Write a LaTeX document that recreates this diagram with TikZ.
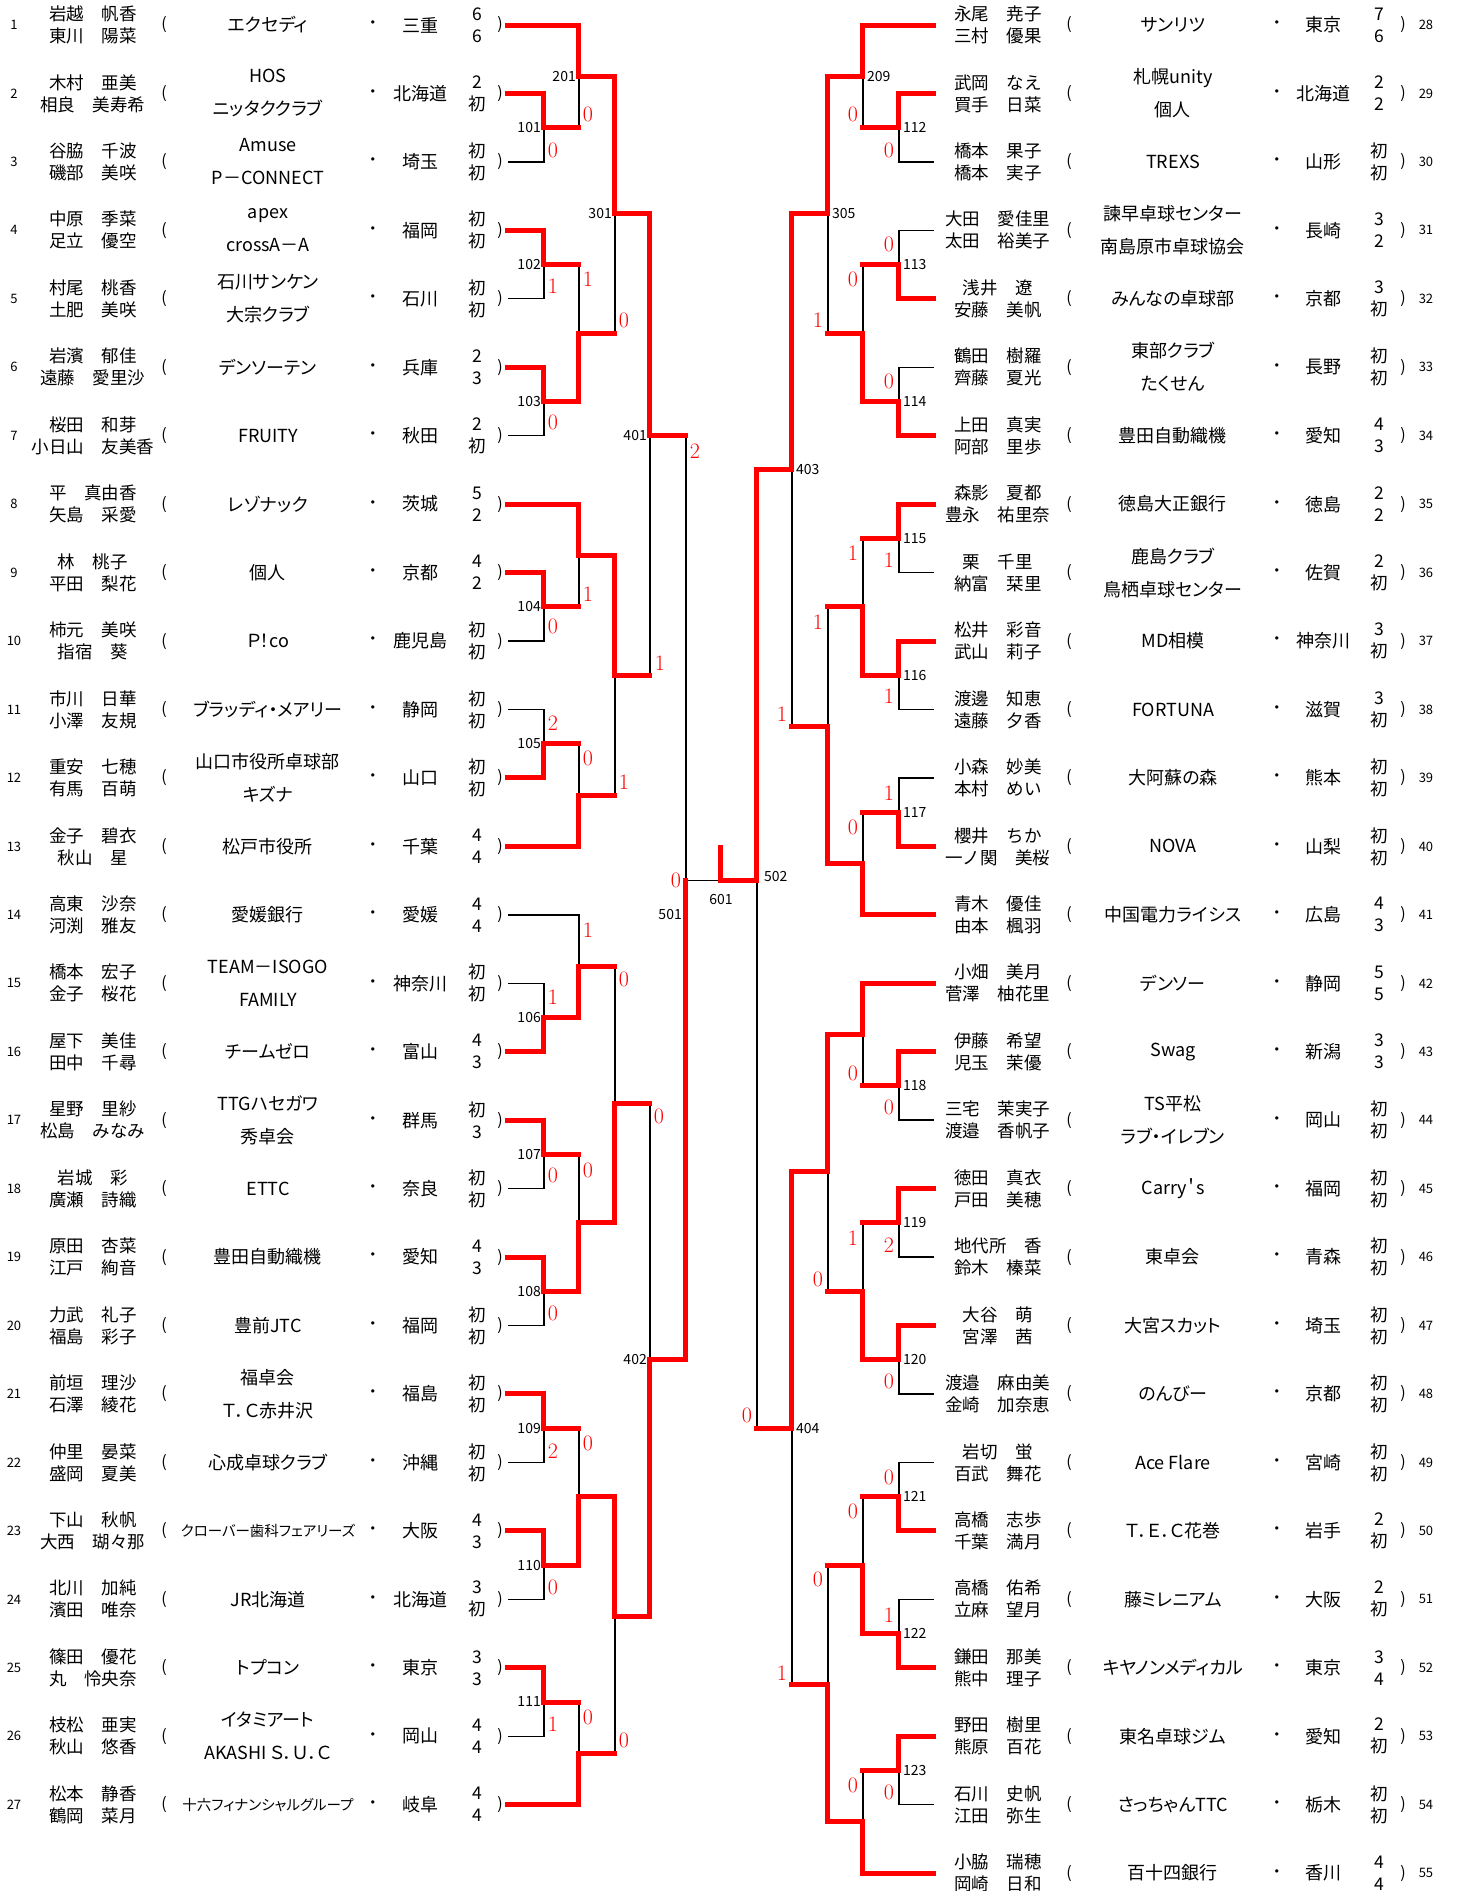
\documentclass[tikz,border=0pt]{standalone}
\usepackage{fontspec}
\newfontfamily\jp{Noto Sans CJK JP}
\newfontfamily\jpp[RawFeature=+palt]{Noto Sans CJK JP}
\usetikzlibrary{positioning}

\tikzset{
  win/.style={draw=red, line width=5pt, line cap=rect},
  lose/.style={draw=black, line width=1.4pt},
  rowno/.style={inner sep=0pt, font=\jp\fontsize{13}{15}\selectfont},
  player/.style={align=center, inner sep=0pt, font=\jp\fontsize{17.5}{22}\selectfont},
  club/.style={align=center, inner sep=0pt, font=\jpp\fontsize{18}{33}\selectfont},
  paren/.style={inner sep=0pt, font=\jp\fontsize{16}{18}\selectfont},
  pref/.style={inner sep=0pt, font=\jp\fontsize{18}{22}\selectfont},
  matchno/.style={inner sep=0pt, font=\jp\fontsize{14}{16}\selectfont},
  gamescore/.style={inner sep=0pt, text=red, font=\fontsize{22}{24}\selectfont},
}

% one entry of the left half: number, two names, club, prefecture, two results
\newcommand{\teamL}[7]{%
  \pgfmathsetmacro\rowq{#1-1}
  \coordinate (r#1) at (508,\rowq);
  \node[rowno] (no#1) at (14,\rowq) {#1};
  \node[player] (nm#1) at (93,\rowq) {#2\\#3};
  \node[paren] (lp#1) at (164,\rowq) {(};
  \node[club] (cl#1) at (268,\rowq) {#4};
  \node[paren] (dt#1) at (373,\rowq) {・};
  \node[pref] (pf#1) at (421,\rowq) {#5};
  \node[player] (sc#1) at (477,\rowq) {#6\\#7};
  \node[paren] (rp#1) at (500,\rowq) {)};
}
% one entry of the right half
\newcommand{\teamR}[7]{%
  \pgfmathsetmacro\rowq{#1-28}
  \coordinate (r#1) at (934,\rowq);
  \node[player] (nm#1) at (998,\rowq) {#2\\#3};
  \node[paren] (lp#1) at (1069,\rowq) {(};
  \node[club] (cl#1) at (1173,\rowq) {#4};
  \node[paren] (dt#1) at (1277,\rowq) {・};
  \node[pref] (pf#1) at (1324,\rowq) {#5};
  \node[player] (sc#1) at (1379,\rowq) {#6\\#7};
  \node[paren] (rp#1) at (1403,\rowq) {)};
  \node[rowno] (no#1) at (1426,\rowq) {#1};
}

\begin{document}
\begin{tikzpicture}[x=1pt, y=-68.45pt]
  \useasboundingbox (0,-0.3652) rectangle (1457,27.2614);

  % left half
  \teamL{1}{岩越　帆香}{東川　陽菜}{エクセディ}{三重}{6}{6}
  \teamL{2}{木村　亜美}{相良　美寿希}{HOS\\ニッタククラブ}{北海道}{2}{初}
  \teamL{3}{谷脇　千波}{磯部　美咲}{Amuse\\P－CONNECT}{埼玉}{初}{初}
  \teamL{4}{中原　季菜}{足立　優空}{apex\\crossA－A}{福岡}{初}{初}
  \teamL{5}{村尾　桃香}{土肥　美咲}{石川サンケン\\大宗クラブ}{石川}{初}{初}
  \teamL{6}{岩濱　郁佳}{遠藤　愛里沙}{デンソーテン}{兵庫}{2}{3}
  \teamL{7}{桜田　和芽}{小日山　友美香}{FRUITY}{秋田}{2}{初}
  \teamL{8}{平　真由香}{矢島　采愛}{レゾナック}{茨城}{5}{2}
  \teamL{9}{林　桃子}{平田　梨花}{個人}{京都}{4}{2}
  \teamL{10}{柿元　美咲}{指宿　葵}{Ｐ！co}{鹿児島}{初}{初}
  \teamL{11}{市川　日華}{小澤　友規}{ブラッディ・メアリー}{静岡}{初}{初}
  \teamL{12}{重安　七穂}{有馬　百萌}{山口市役所卓球部\\キズナ}{山口}{初}{初}
  \teamL{13}{金子　碧衣}{秋山　星}{松戸市役所}{千葉}{4}{4}
  \teamL{14}{高東　沙奈}{河渕　雅友}{愛媛銀行}{愛媛}{4}{4}
  \teamL{15}{橋本　宏子}{金子　桜花}{TEAM－ISOGO\\FAMILY}{神奈川}{初}{初}
  \teamL{16}{屋下　美佳}{田中　千尋}{チームゼロ}{富山}{4}{3}
  \teamL{17}{星野　里紗}{松島　みなみ}{TTGハセガワ\\秀卓会}{群馬}{初}{3}
  \teamL{18}{岩城　彩}{廣瀬　詩織}{ETTC}{奈良}{初}{初}
  \teamL{19}{原田　杏菜}{江戸　絢音}{豊田自動織機}{愛知}{4}{3}
  \teamL{20}{力武　礼子}{福島　彩子}{豊前JTC}{福岡}{初}{初}
  \teamL{21}{前垣　理沙}{石澤　綾花}{福卓会\\Ｔ．Ｃ赤井沢}{福島}{初}{初}
  \teamL{22}{仲里　晏菜}{盛岡　夏美}{心成卓球クラブ}{沖縄}{初}{初}
  \teamL{23}{下山　秋帆}{大西　瑚々那}{{\fontsize{14.5}{16}\selectfont クローバー歯科フェアリーズ}}{大阪}{4}{3}
  \teamL{24}{北川　加純}{濱田　唯奈}{JR北海道}{北海道}{3}{初}
  \teamL{25}{篠田　優花}{丸　怜央奈}{トプコン}{東京}{3}{3}
  \teamL{26}{枝松　亜実}{秋山　悠香}{イタミアート\\AKASHI Ｓ．Ｕ．Ｃ}{岡山}{4}{4}
  \teamL{27}{松本　静香}{鶴岡　菜月}{{\fontsize{14.5}{16}\selectfont 十六フィナンシャルグループ}}{岐阜}{4}{4}

  % right half
  \teamR{28}{永尾　尭子}{三村　優果}{サンリツ}{東京}{7}{6}
  \teamR{29}{武岡　なえ}{買手　日菜}{札幌unity\\個人}{北海道}{2}{2}
  \teamR{30}{橋本　果子}{橋本　実子}{TREXS}{山形}{初}{初}
  \teamR{31}{大田　愛佳里}{太田　裕美子}{諫早卓球センター\\南島原市卓球協会}{長崎}{3}{2}
  \teamR{32}{浅井　遼}{安藤　美帆}{みんなの卓球部}{京都}{3}{初}
  \teamR{33}{鶴田　樹羅}{齊藤　夏光}{東部クラブ\\たくせん}{長野}{初}{初}
  \teamR{34}{上田　真実}{阿部　里歩}{豊田自動織機}{愛知}{4}{3}
  \teamR{35}{森影　夏都}{豊永　祐里奈}{徳島大正銀行}{徳島}{2}{2}
  \teamR{36}{栗　千里}{納富　栞里}{鹿島クラブ\\鳥栖卓球センター}{佐賀}{2}{初}
  \teamR{37}{松井　彩音}{武山　莉子}{MD相模}{神奈川}{3}{初}
  \teamR{38}{渡邊　知恵}{遠藤　夕香}{FORTUNA}{滋賀}{3}{初}
  \teamR{39}{小森　妙美}{本村　めい}{大阿蘇の森}{熊本}{初}{初}
  \teamR{40}{櫻井　ちか}{一ノ関　美桜}{NOVA}{山梨}{初}{初}
  \teamR{41}{青木　優佳}{由本　楓羽}{中国電力ライシス}{広島}{4}{3}
  \teamR{42}{小畑　美月}{菅澤　柚花里}{デンソー}{静岡}{5}{5}
  \teamR{43}{伊藤　希望}{児玉　茉優}{Swag}{新潟}{3}{3}
  \teamR{44}{三宅　茉実子}{渡邉　香帆子}{TS平松\\ラブ・イレブン}{岡山}{初}{初}
  \teamR{45}{徳田　真衣}{戸田　美穂}{Carry＇s}{福岡}{初}{初}
  \teamR{46}{地代所　香}{鈴木　榛菜}{東卓会}{青森}{初}{初}
  \teamR{47}{大谷　萌}{宮澤　茜}{大宮スカット}{埼玉}{初}{初}
  \teamR{48}{渡邉　麻由美}{金崎　加奈恵}{のんびー}{京都}{初}{初}
  \teamR{49}{岩切　蛍}{百武　舞花}{Ace Flare}{宮崎}{初}{初}
  \teamR{50}{高橋　志歩}{千葉　満月}{Ｔ．Ｅ．Ｃ花巻}{岩手}{2}{初}
  \teamR{51}{高橋　佑希}{立麻　望月}{藤ミレニアム}{大阪}{2}{初}
  \teamR{52}{鎌田　那美}{熊中　理子}{キヤノンメディカル}{東京}{3}{4}
  \teamR{53}{野田　樹里}{熊原　百花}{東名卓球ジム}{愛知}{2}{初}
  \teamR{54}{石川　史帆}{江田　弥生}{さっちゃんTTC}{栃木}{初}{初}
  \teamR{55}{小脇　瑞穂}{岡崎　日和}{百十四銀行}{香川}{4}{4}

  % match points
  \foreach \m/\q in {101/1.5,102/3.5,103/5.5,104/8.5,105/10.5,106/14.5,107/16.5,
      108/18.5,109/20.5,110/22.5,111/24.5}
    \coordinate (m\m) at (544,\q);
  \foreach \m/\q in {201/0.75,202/4.5,203/7.75,204/11.25,205/13.75,206/17.5,207/21.5,208/25.25}
    \coordinate (m\m) at (579,\q);
  \foreach \m/\q in {301/2.75,302/9.5,303/15.75,304/23.25}
    \coordinate (m\m) at (615,\q);
  \coordinate (m401) at (650,6);
  \coordinate (m402) at (650,19.5);
  \coordinate (m501) at (686,12.5);
  \coordinate (m601) at (721,12.5);
  \coordinate (m601t) at (721,12.02);
  \coordinate (m502) at (757,12.5);
  \coordinate (m403) at (792,6.5);
  \coordinate (m404) at (792,20.5);
  \foreach \m/\q in {305/2.75,306/10.25,307/16.75,308/24.25}
    \coordinate (m\m) at (828,\q);
  \foreach \m/\q in {209/0.75,210/4.5,211/8.5,212/12.25,213/14.75,214/18.5,215/22.5,216/26.25}
    \coordinate (m\m) at (863,\q);
  \foreach \m/\q in {112/1.5,113/3.5,114/5.5,115/7.5,116/9.5,117/11.5,118/15.5,
      119/17.5,120/19.5,121/21.5,122/23.5,123/25.5}
    \coordinate (m\m) at (899,\q);

  % thin lines
  \foreach \a/\b in {r2/m101,r3/m101,r4/m102,r5/m102,r6/m103,r7/m103,r9/m104,r10/m104,
      r11/m105,r12/m105,r15/m106,r16/m106,r17/m107,r18/m107,r19/m108,r20/m108,
      r21/m109,r22/m109,r23/m110,r24/m110,r25/m111,r26/m111,
      r1/m201,m101/m201,m102/m202,m103/m202,r8/m203,m104/m203,m105/m204,r13/m204,
      r14/m205,m106/m205,m107/m206,m108/m206,m109/m207,m110/m207,m111/m208,r27/m208,
      m201/m301,m202/m301,m203/m302,m204/m302,m205/m303,m206/m303,m207/m304,m208/m304,
      m301/m401,m302/m401,m303/m402,m304/m402,m401/m501,m402/m501,
      r29/m112,r30/m112,r31/m113,r32/m113,r33/m114,r34/m114,r35/m115,r36/m115,
      r37/m116,r38/m116,r39/m117,r40/m117,r43/m118,r44/m118,r45/m119,r46/m119,
      r47/m120,r48/m120,r49/m121,r50/m121,r51/m122,r52/m122,r53/m123,r54/m123,
      r28/m209,m112/m209,m113/m210,m114/m210,m115/m211,m116/m211,m117/m212,r41/m212,
      r42/m213,m118/m213,m119/m214,m120/m214,m121/m215,m122/m215,m123/m216,r55/m216,
      m209/m305,m210/m305,m211/m306,m212/m306,m213/m307,m214/m307,m215/m308,m216/m308,
      m305/m403,m306/m403,m307/m404,m308/m404,m403/m502,m404/m502}
    \draw[lose] (\a) -| (\b);
  \draw[lose] (m501) -- (m601);

  % winners, left
  \draw[win] (r1) -| (m201) -| (m301) -| (m401) -- (m401 -| m501);
  \draw[win] (r2) -| (m101) -- (m101 -| m201);
  \draw[win] (r4) -| (m102) -- (m102 -| m202);
  \draw[win] (r6) -| (m103) -| (m202) -- (m202 -| m301);
  \draw[win] (r8) -| (m203) -| (m302) -- (m302 -| m401);
  \draw[win] (r9) -| (m104) -- (m104 -| m203);
  \draw[win] (r12) -| (m105) -- (m105 -| m204);
  \draw[win] (r13) -| (m204) -- (m204 -| m302);
  \draw[win] (r16) -| (m106) -| (m205) -- (m205 -| m303);
  \draw[win] (r17) -| (m107) -- (m107 -| m206);
  \draw[win] (r19) -| (m108) -| (m206) -| (m303) -- (m303 -| m402);
  \draw[win] (r21) -| (m109) -- (m109 -| m207);
  \draw[win] (r23) -| (m110) -| (m207) -| (m304) -| (m402) -| (m501);
  \draw[win] (r25) -| (m111) -- (m111 -| m208);
  \draw[win] (r27) -| (m208) -- (m208 -| m304);
  % winners, right
  \draw[win] (r28) -| (m209) -| (m305) -| (m403) -| (m502) -- (m601) -- (m601t);
  \draw[win] (r29) -| (m112) -- (m112 -| m209);
  \draw[win] (r32) -| (m113) -- (m113 -| m210);
  \draw[win] (r34) -| (m114) -| (m210) -- (m210 -| m305);
  \draw[win] (r35) -| (m115) -- (m115 -| m211);
  \draw[win] (r37) -| (m116) -| (m211) -- (m211 -| m306);
  \draw[win] (r40) -| (m117) -- (m117 -| m212);
  \draw[win] (r41) -| (m212) -| (m306) -- (m306 -| m403);
  \draw[win] (r42) -| (m213) -| (m307) -| (m404) -- (m404 -| m502);
  \draw[win] (r43) -| (m118) -- (m118 -| m213);
  \draw[win] (r45) -| (m119) -- (m119 -| m214);
  \draw[win] (r47) -| (m120) -| (m214) -- (m214 -| m307);
  \draw[win] (r50) -| (m121) -- (m121 -| m215);
  \draw[win] (r52) -| (m122) -| (m215) -- (m215 -| m308);
  \draw[win] (r53) -| (m123) -- (m123 -| m216);
  \draw[win] (r55) -| (m216) -| (m308) -- (m308 -| m404);

  % match numbers
  \foreach \m in {101,...,111,201,...,208,301,...,304,401,402}
    \node[matchno, left=3pt of m\m] (l\m) {\m};
  \foreach \m in {112,...,123,209,...,216,305,...,308,403,404}
    \node[matchno, right=4pt of m\m] (l\m) {\m};
  \node[matchno, anchor=east] (l501) at ([shift={(-4pt,-34pt)}]m501) {501};
  \node[matchno] (l601) at ([yshift=-19pt]m601) {601};
  \node[matchno, anchor=west] (l502) at ([shift={(7pt,4pt)}]m502) {502};

  % games of the losers
  \foreach \n/\x/\q/\v in {101/553/1.83/0,201/588/1.31/0,102/553/3.81/1,202/588/3.71/1,
      103/553/5.81/0,301/624/4.31/0,401/660/9.32/1,501/695/6.22/2,203/588/8.31/1,
      104/553/8.79/0,302/624/11.06/1,105/553/10.2/2,204/588/10.72/0,601/676/12.49/0,
      205/588/13.22/1,106/553/14.21/1,303/624/13.95/0,107/553/16.8/0,206/588/16.73/0,
      402/659/15.95/0,108/553/18.82/0,109/553/20.83/2,207/588/20.72/0,110/553/22.82/0,
      304/624/25.06/0,111/553/24.82/1,208/588/24.72/0,
      209/853/1.31/0,112/889/1.83/0,305/818/4.31/1,113/889/3.21/0,210/853/3.71/0,
      114/889/5.21/0,403/782/10.07/1,115/889/7.82/1,211/853/7.71/1,116/889/9.81/1,
      306/818/8.72/1,117/889/11.23/1,212/853/11.72/0,502/747/20.32/0,213/853/15.31/0,
      118/889/15.82/0,307/818/18.33/0,119/889/17.82/2,214/853/17.72/1,120/889/19.82/0,
      404/782/24.08/1,121/889/21.22/0,215/853/21.72/0,122/889/23.23/1,308/818/22.71/0,
      123/889/25.82/0,216/853/25.72/0}
    \node[gamescore] (s\n) at (\x,\q) {\v};
\end{tikzpicture}
\end{document}
